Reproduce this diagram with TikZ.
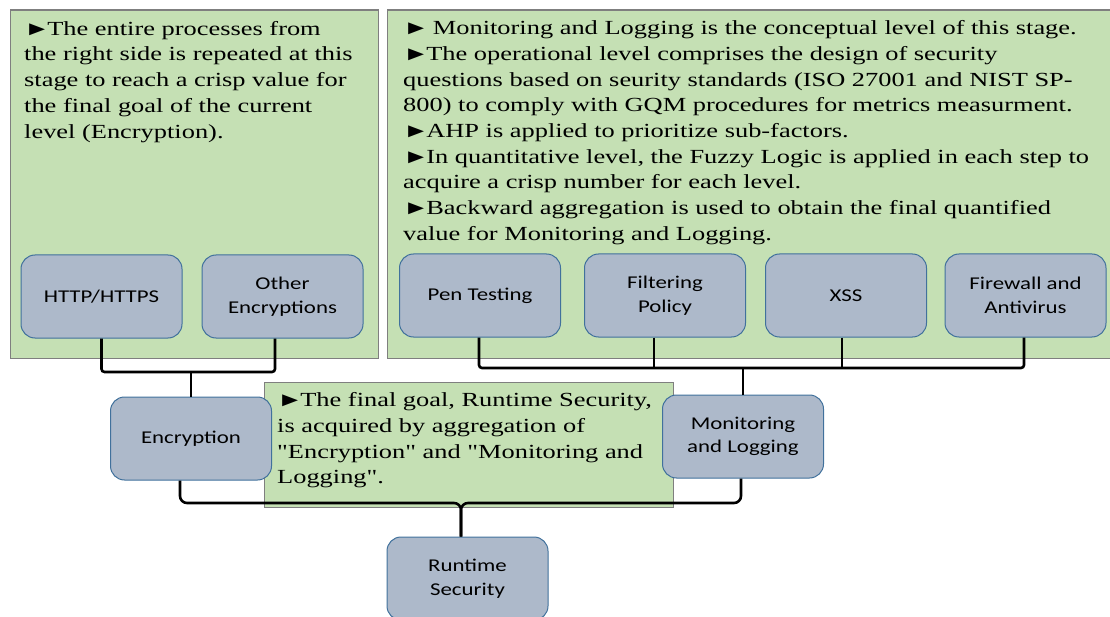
\documentclass[tikz,border=0pt]{standalone}
\usepackage{fontspec}
\setmainfont{Liberation Serif}[FakeStretch=1.32, Ligatures=TeXOff]
\newfontfamily\boxfont{Carlito}[FakeStretch=1.27]
\usetikzlibrary{calc}

\definecolor{panelgreen}{HTML}{C5E0B4}
\definecolor{panelline}{HTML}{7F7F7F}
\definecolor{boxfill}{HTML}{ADB9CA}
\definecolor{boxline}{HTML}{41719C}

% bullet mark
\newcommand{\pbul}{►\kern-3pt}

\tikzset{
  panel/.style={draw=panelline, fill=panelgreen, line width=1.2pt, inner sep=0pt, anchor=north west},
  factor/.style={draw=boxline, fill=boxfill, line width=1pt, rounded corners=14pt,
    minimum width=161pt, minimum height=83pt, align=center, inner sep=0pt,
    font=\boxfont\fontsize{18}{23.5}\selectfont},
  bus/.style={line width=2.6pt, rounded corners=3pt},
  note/.style={anchor=north west, align=left, inner sep=0pt,
    font=\fontsize{20}{25.7}\selectfont}
}

\begin{document}
\begin{tikzpicture}[x=1pt, y=-1pt]
\useasboundingbox (0,0) rectangle (1110,617);

% green stage panels
\node[panel, minimum width=368pt, minimum height=348pt] (lpanel) at (9.5,9.5) {};
\node[panel, minimum width=730pt, minimum height=348pt] (rpanel) at (387,9.5) {};
\node[panel, minimum width=409pt, minimum height=125pt] (mpanel) at (264,382) {};

% panel texts
\node[note] (ltext) at (24,21) {\pbul The entire processes from\\
the right side is repeated at this\\
stage to reach a crisp value for\\
the final goal of the current\\
level (Encryption).};

\node[note] (rtext) at (403,20.5) {\pbul\ Monitoring and Logging is the conceptual level of this stage.\\
\pbul The operational level comprises the design of security\\
questions based on seurity standards (ISO 27001 and NIST SP-\\
800) to comply with GQM procedures for metrics measurment.\\
\pbul AHP is applied to prioritize sub-factors.\\
\pbul In quantitative level, the Fuzzy Logic is applied in each step to\\
acquire a crisp number for each level.\\
\pbul Backward aggregation is used to obtain the final quantified\\
value for Monitoring and Logging.};

\node[note] (mtext) at (277,392.5) {\pbul The final goal, Runtime Security,\\
is acquired by aggregation of\\
"Encryption" and "Monitoring and\\
Logging".};

% connector junction points
\coordinate (lj) at (191,372);
\coordinate (rj) at (743,368);
\coordinate (bj) at (461,503);

% factor boxes
\node[factor] (http)   at (101.5,296.5) {HTTP/HTTPS};
\node[factor] (other)  at (282.5,296.5) {Other\\Encryptions};
\node[factor] (pen)    at (480,295.5)   {Pen Testing};
\node[factor] (filter) at (665,295.5)   {Filtering\\Policy};
\node[factor] (xss)    at (846,295.5)   {XSS};
\node[factor] (fw)     at (1025.5,295.5){Firewall and\\Antivirus};
\node[factor] (enc)    at (191,438.5)   {Encryption};
\node[factor] (mon)    at (743,436.5)   {Monitoring\\and Logging};
\node[factor] (run)    at (467.5,578.5) {Runtime\\Security};

% aggregation connectors
\draw[bus] (http.south) |- (lj) -| ([xshift=-7.5pt]other.south);
\draw[bus] (lj) -- (enc.north);

\draw[bus] ([xshift=-1pt]pen.south) |- (rj) -| ([xshift=-1.5pt]fw.south);
\draw[bus] ([xshift=-11pt]filter.south) -- ([xshift=-11pt]filter.south |- rj);
\draw[bus] ([xshift=-4pt]xss.south) -- ([xshift=-4pt]xss.south |- rj);
\draw[bus] (rj) -- (mon.north);

\draw[bus, rounded corners=7pt] ([xshift=-11pt]enc.south) |- (bj) -- ([xshift=-6.5pt]run.north);
\draw[bus, rounded corners=7pt] ([xshift=-2pt]mon.south) |- (bj) -- ([xshift=-6.5pt]run.north);
\end{tikzpicture}
\end{document}
